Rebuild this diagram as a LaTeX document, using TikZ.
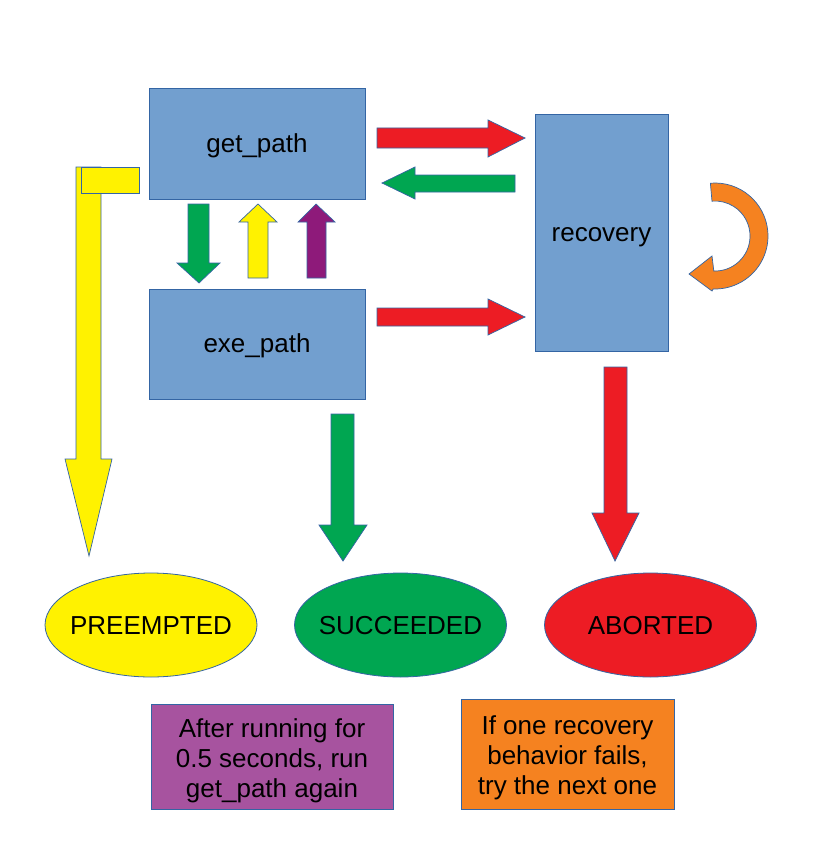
\documentclass[tikz,border=0pt]{standalone}
\usepackage{fontspec}
\setmainfont{Liberation Sans}
\usetikzlibrary{shapes.geometric}
\definecolor{boxblue}{RGB}{114,159,207}
\definecolor{edgeblue}{RGB}{52,101,164}
\definecolor{ared}{RGB}{237,28,36}
\definecolor{agreen}{RGB}{0,166,81}
\definecolor{ayellow}{RGB}{255,242,0}
\definecolor{apurple}{RGB}{142,26,122}
\definecolor{boxpurple}{RGB}{167,83,159}
\definecolor{aorange}{RGB}{245,130,32}
\newcommand{\zw}[1]{\makebox[0pt][c]{#1}}
\begin{document}
\begin{tikzpicture}[x=1pt,y=-1pt,
  every node/.style={font=\fontsize{26}{30}\selectfont, inner sep=0pt, outer sep=0pt},
  statebox/.style={draw=edgeblue, line width=0.8pt, fill=boxblue, text height=19pt, text depth=2pt},
  outcome/.style={ellipse, draw=edgeblue, line width=0.8pt, minimum width=212, minimum height=104, text height=19pt, text depth=0pt},
  notebox/.style={draw=edgeblue, line width=0.8pt, align=center},
  barrow/.style={draw=edgeblue, line width=0.7pt, line join=miter}]
\useasboundingbox[fill=white] (0,0) rectangle (816,864);

% state boxes
\node[statebox, minimum width=216, minimum height=111] (get) at (257,143.5) {get\_path};
\node[statebox, minimum width=216, minimum height=110] (exe) at (257,344) {exe\_path};
\node[statebox, minimum width=133, minimum height=237] (rec) at (601.5,232.5) {recovery};

% outcomes
\node[outcome, fill=ayellow] (pre) at (151,625) {\zw{PREEMPTED}};
\node[outcome, fill=agreen] (suc) at (400.5,625) {\zw{SUCCEEDED}};
\node[outcome, fill=ared] (abo) at (650.5,625) {\zw{ABORTED}};

% notes
\node[notebox, fill=boxpurple, minimum width=242, minimum height=105] (n1) at (272,756.5) {\rule{0pt}{27pt}After running for\\0.5 seconds, run\\get\_path again};
\node[notebox, fill=aorange, minimum width=213, minimum height=110] (n2) at (567.5,754) {\rule{0pt}{27pt}If one recovery\\behavior fails,\\try the next one};

% block arrows
\fill[barrow, fill=ared] (377,128) -- (488,128) -- (488,120) -- (525,138) -- (488,157) -- (488,148) -- (377,148) -- cycle;
\fill[barrow, fill=agreen] (515,175) -- (415,175) -- (415,167) -- (382,183) -- (415,199) -- (415,192) -- (515,192) -- cycle;
\fill[barrow, fill=ared] (377,308) -- (488,308) -- (488,299) -- (525,317) -- (488,335) -- (488,326) -- (377,326) -- cycle;
\fill[barrow, fill=agreen] (188,204) -- (209,204) -- (209,263) -- (220,263) -- (199,283) -- (177,263) -- (188,263) -- cycle;
\fill[barrow, fill=ayellow] (248,278) -- (268,278) -- (268,222) -- (277,222) -- (258,204) -- (239,222) -- (248,222) -- cycle;
\fill[barrow, fill=apurple] (307,278) -- (326,278) -- (326,222) -- (335,222) -- (316,204) -- (298,222) -- (307,222) -- cycle;
\fill[barrow, fill=ayellow] (76,167) -- (101,167) -- (101,459) -- (112,459) -- (89,556) -- (65,459) -- (76,459) -- cycle;
\fill[barrow, fill=ayellow] (81,167) rectangle (139,193);
\fill[barrow, fill=agreen] (331,414) -- (354,414) -- (354,525) -- (367,525) -- (343,561) -- (319,525) -- (331,525) -- cycle;
\fill[barrow, fill=ared] (604,367) -- (627,367) -- (627,513) -- (639,513) -- (615,561) -- (592,513) -- (604,513) -- cycle;

% orange loop arrow
\fill[barrow, fill=aorange] (715,236) ++(-95:53) arc[start angle=-95, end angle=92, radius=53]
  -- (712,291) -- (689,274) -- (712,256) -- (713.8,271)
  arc[start angle=92, end angle=-95, radius=35] -- cycle;
\end{tikzpicture}
\end{document}
